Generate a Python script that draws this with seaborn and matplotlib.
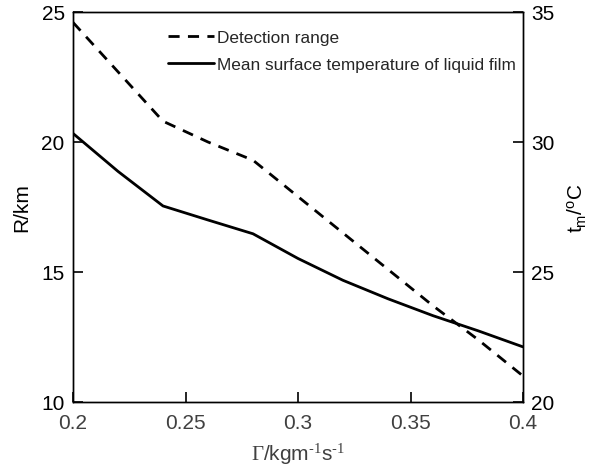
import numpy as np
import pandas as pd
import matplotlib
matplotlib.use("Agg")
import matplotlib.pyplot as plt
import seaborn as sns

# Data
gamma = [0.20, 0.22, 0.24, 0.26, 0.28, 0.30, 0.32, 0.34, 0.36, 0.38, 0.40]
detection_range = [24.6, 22.7, 20.8, 20.0, 19.3, 17.9, 16.5, 15.1, 13.7, 12.4, 11.0]
mean_temp = [30.33, 28.87, 27.54, 27.0, 26.47, 25.52, 24.68, 23.97, 23.32, 22.74, 22.12]
x_ticks = [0.2, 0.25, 0.3, 0.35, 0.4]
x_tick_labels = ["0.2", "0.25", "0.3", "0.35", "0.4"]
left_ticks = [10, 15, 20, 25]
right_ticks = [20, 25, 30, 35]

sns.set_theme(style="ticks")
plt.rcParams['font.family'] = ['Liberation Sans', 'DejaVu Sans']
plt.rcParams['mathtext.fontset'] = 'custom'
plt.rcParams['mathtext.rm'] = 'Liberation Serif'
plt.rcParams['mathtext.sf'] = 'Liberation Sans'
plt.rcParams['mathtext.it'] = 'Liberation Sans:italic'

df = pd.DataFrame({"gamma": gamma, "R": detection_range, "T": mean_temp})

fig = plt.figure(figsize=(6.13, 4.77), dpi=100)
ax = fig.add_axes([73/613, (477-403)/477, 450/613, 390/477])
ax2 = ax.twinx()

sns.lineplot(data=df, x="gamma", y="R", ax=ax, color="black", linewidth=2,
             linestyle="--", label="Detection range", legend=False)
ax.lines[0].set_dashes((4, 3))
sns.lineplot(data=df, x="gamma", y="T", ax=ax2, color="black", linewidth=2,
             label="Mean surface temperature of liquid film", legend=False)

ax.set_xlim(0.2, 0.4)
ax.set_ylim(10, 25)
ax2.set_ylim(20, 35)
ax.set_xticks(x_ticks)
ax.set_xticklabels(x_tick_labels)
ax.set_yticks(left_ticks)
ax2.set_yticks(right_ticks)

for a in (ax, ax2):
    for s in a.spines.values():
        s.set_visible(True)
        s.set_color("black")
        s.set_linewidth(1.0)
ax.tick_params(axis="x", direction="in", length=7, width=1.2, color="black",
               labelsize=15, labelcolor="#404040", pad=8)
ax.tick_params(axis="y", direction="in", length=7, width=1.2, color="black",
               labelsize=15, labelcolor="black", pad=6)
ax2.tick_params(axis="y", direction="in", length=7, width=1.2, color="black",
                labelsize=15, labelcolor="black", pad=6)

ax.set_xlabel("$\\Gamma$/kgm$^{\\mathsf{\u2010}1}$s$^{\\mathsf{\u2010}1}$", fontsize=15,
              color="#404040", labelpad=6)
ax.set_ylabel("R/km", fontsize=15, color="black", labelpad=7)
ax2.set_ylabel(r"t$_{\mathsf{m}}$/$^{\mathsf{o}}$C", fontsize=15, color="black",
               labelpad=8)

h1, l1 = ax.get_legend_handles_labels()
h2, l2 = ax2.get_legend_handles_labels()
leg = ax2.legend(h1 + h2, l1 + l2, loc="upper left", bbox_to_anchor=(0.21, 0.955),
                 frameon=False, fontsize=12.4, handlelength=2.7, handletextpad=0.15,
                 labelspacing=0.7, borderaxespad=0.0, borderpad=0.0)

fig.savefig("out.png", dpi=100)
